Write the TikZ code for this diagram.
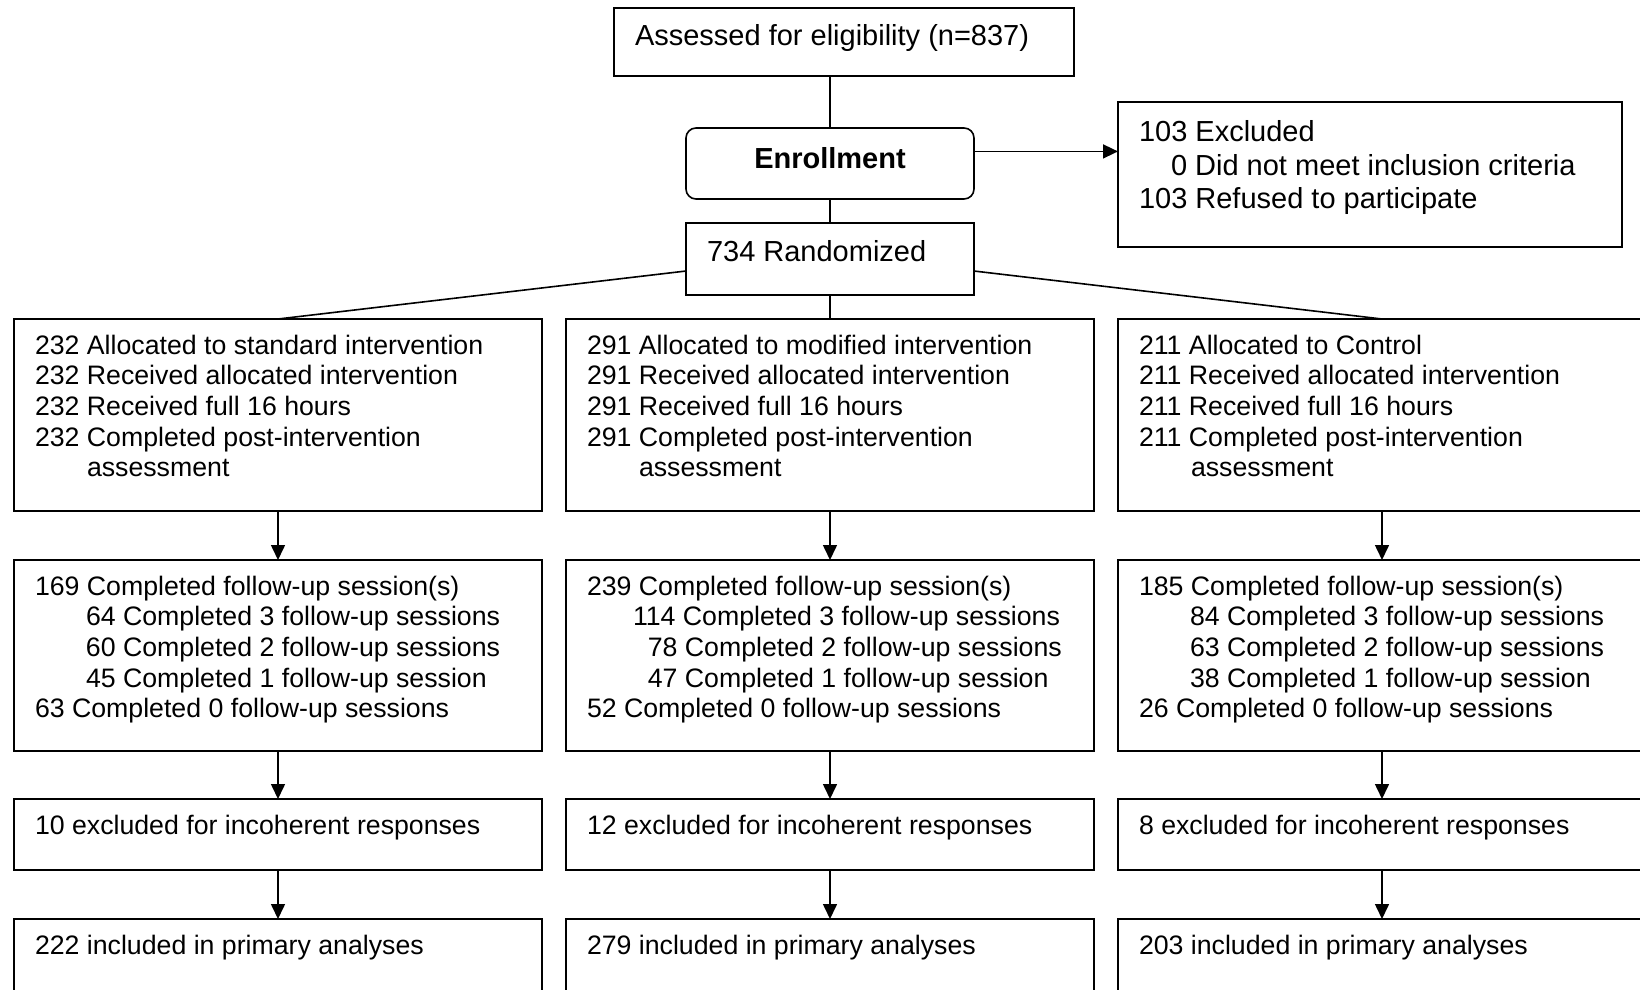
\documentclass[tikz,border=0pt]{standalone}
\usepackage{fontspec}
\setmainfont{Liberation Sans}
\usetikzlibrary{arrows.meta,calc}
\newcommand{\bx}[4][17.5pt]{\parbox[t][#3][t]{#2}{\raggedright\leftskip=10.5pt\relax\rule{0pt}{#1}#4}}
\begin{document}
\begin{tikzpicture}[x=0.5pt,y=-0.5pt,
  box/.style={draw, line width=0.8pt, rectangle, inner sep=0pt, outer sep=0pt, anchor=north west},
  big/.style={font=\fontsize{14.5pt}{16.75pt}\selectfont},
  small/.style={font=\fontsize{13.35pt}{15.35pt}\selectfont},
  link/.style={line width=0.8pt},
  arr/.style={line width=0.8pt, -{Triangle[width=7pt,length=7.5pt]}}]
\useasboundingbox (0,0) rectangle (1640,990);
\clip (0,0) rectangle (1640,990);
% top
\node[box,big] (assess) at (614,8) {\bx[19pt]{230pt}{34pt}{Assessed for eligibility (n=837)}};
\node[box,rounded corners=5pt,minimum width=144pt,minimum height=35.5pt,text depth=5.2pt,font=\bfseries\fontsize{14.5pt}{16.75pt}\selectfont] (enroll) at (686,128) {Enrollment};
\node[box,big] (rand) at (686,223) {\bx[19.5pt]{144pt}{36pt}{734 Randomized}};
\node[box,big] (excl) at (1118,102) {\bx[19.8pt]{252pt}{72.5pt}{103 Excluded\\\hspace*{16pt}0 Did not meet inclusion criteria\\103 Refused to participate}};
% row 1
\node[box,small] (a1) at (14,319) {\bx{264pt}{96pt}{232 Allocated to standard intervention\\232 Received allocated intervention\\232 Received full 16 hours\\232 Completed post-intervention\\\hspace*{26pt}assessment}};
\node[box,small] (b1) at (566,319) {\bx{264pt}{96pt}{291 Allocated to modified intervention\\291 Received allocated intervention\\291 Received full 16 hours\\291 Completed post-intervention\\\hspace*{26pt}assessment}};
\node[box,small] (c1) at (1118,319) {\bx{264pt}{96pt}{211 Allocated to Control\\211 Received allocated intervention\\211 Received full 16 hours\\211 Completed post-intervention\\\hspace*{26pt}assessment}};
% row 2
\node[box,small] (a2) at (14,560) {\bx{264pt}{95.5pt}{169 Completed follow-up session(s)\\\hspace*{25.5pt}64 Completed 3 follow-up sessions\\\hspace*{25.5pt}60 Completed 2 follow-up sessions\\\hspace*{25.5pt}45 Completed 1 follow-up session\\63 Completed 0 follow-up sessions}};
\node[box,small] (b2) at (566,560) {\bx{264pt}{95.5pt}{239 Completed follow-up session(s)\\\hspace*{23pt}114 Completed 3 follow-up sessions\\\hspace*{30.4pt}78 Completed 2 follow-up sessions\\\hspace*{30.4pt}47 Completed 1 follow-up session\\52 Completed 0 follow-up sessions}};
\node[box,small] (c2) at (1118,560) {\bx{264pt}{95.5pt}{185 Completed follow-up session(s)\\\hspace*{25.5pt}84 Completed 3 follow-up sessions\\\hspace*{25.5pt}63 Completed 2 follow-up sessions\\\hspace*{25.5pt}38 Completed 1 follow-up session\\26 Completed 0 follow-up sessions}};
% row 3
\node[box,small] (a3) at (14,799) {\bx{264pt}{35.5pt}{10 excluded for incoherent responses}};
\node[box,small] (b3) at (566,799) {\bx{264pt}{35.5pt}{12 excluded for incoherent responses}};
\node[box,small] (c3) at (1118,799) {\bx{264pt}{35.5pt}{8 excluded for incoherent responses}};
% row 4
\node[box,small] (a4) at (14,919) {\bx{264pt}{40pt}{222 included in primary analyses}};
\node[box,small] (b4) at (566,919) {\bx{264pt}{40pt}{279 included in primary analyses}};
\node[box,small] (c4) at (1118,919) {\bx{264pt}{40pt}{203 included in primary analyses}};
% connectors
\draw[link] (assess.south -| enroll.north) -- (enroll.north);
\draw[link] (enroll.south) -- (rand.north);
\coordinate (ex) at ($(enroll.north east)!0.33!(enroll.south east)$);
\draw[arr] (ex) -- (ex -| excl.west);
\draw[link] ($(rand.north west)!0.667!(rand.south west)$) -- (a1.north);
\draw[link] ($(rand.north east)!0.667!(rand.south east)$) -- (c1.north);
\draw[link] (rand.south) -- (b1.north);
\foreach \c in {a,b,c}{
  \draw[arr] (\c1.south) -- (\c2.north);
  \draw[arr] (\c2.south) -- (\c3.north);
  \draw[arr] (\c3.south) -- (\c4.north);
}
\end{tikzpicture}
\end{document}
